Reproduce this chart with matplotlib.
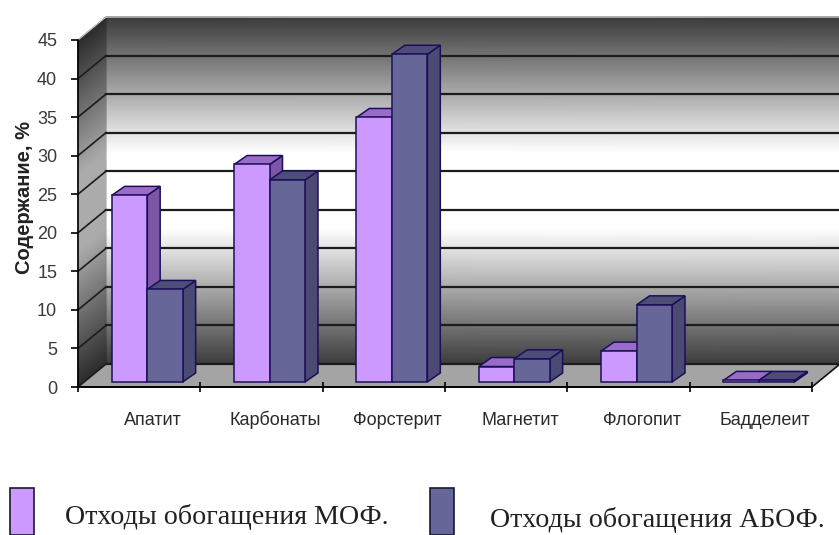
import numpy as np
import matplotlib
matplotlib.use("Agg")
import matplotlib.pyplot as plt
from matplotlib.colors import LinearSegmentedColormap
from matplotlib.patches import Polygon, Rectangle

categories = ["Апатит", "Карбонаты", "Форстерит", "Магнетит", "Флогопит", "Бадделеит"]
mof_values = [24.2, 28.2, 34.3, 2, 4, 0.2]
abof_values = [12, 26.2, 42.5, 3, 10, 0.2]
series_names = ["Отходы обогащения МОФ.", "Отходы обогащения АБОФ."]
y_ticks = list(range(0, 50, 5))

plt.rcParams["font.family"] = ["Liberation Sans", "DejaVu Sans"]

W, H = 839, 535
fig = plt.figure(figsize=(W / 100, H / 100), dpi=100)
ax = fig.add_axes([78 / W, (H - 387) / H, 734 / W, 347 / H])

# oblique depth of the 3d box, in data units
DX = 28 / (734 / 6)
DY = 23 / (347 / 45)
YMAX = 45

# wall shading: white band in the middle, dark at top and bottom
wall_cmap = LinearSegmentedColormap.from_list("wall", ["#ffffff", "#3c3c3c"])
side_cmap = LinearSegmentedColormap.from_list("side", ["#ababab", "#2c2c2c"])

yy = np.linspace(0, YMAX, 200)
shade = np.abs(np.linspace(-1, 1, 200))[:, None] * np.ones((200, 2))
wall_shade = np.clip((shade - 0.22) / 0.78, 0, 1)

# back wall
Xb, Yb = np.meshgrid(np.array([DX, 6 + DX]), yy + DY)
ax.pcolormesh(Xb, Yb, wall_shade, cmap=wall_cmap, vmin=0, vmax=1, shading="gouraud",
              zorder=1, clip_on=False)

# side wall, skewed with the depth
Xs, Ys = np.meshgrid(np.array([0, DX]), yy)
Ys = Ys + Xs / DX * DY
ax.pcolormesh(Xs, Ys, wall_shade, cmap=side_cmap, vmin=0, vmax=1, shading="gouraud",
              zorder=1, clip_on=False)

# floor
ax.add_patch(Polygon([(0, 0), (6, 0), (6 + DX, DY), (DX, DY)], closed=True, fc="#a4a4a4", ec="none",
                     zorder=1.5, clip_on=False))
ax.plot([6, 6 + DX], [0, DY], color="#111111", lw=1.2, zorder=2, clip_on=False)

# grid lines on both walls
for v in y_ticks:
    if v == YMAX:
        ax.plot([DX, 6 + DX], [v + DY, v + DY], color="#b5b5b5", lw=1.2, zorder=2, clip_on=False)
        ax.plot([0, DX], [v, v + DY], color="#cfcfcf", lw=0.8, zorder=2, clip_on=False)
        continue
    ax.plot([DX, 6 + DX], [v + DY, v + DY], color="#1c1c1c", lw=1.6, zorder=2, clip_on=False)
    ax.plot([0, DX], [v, v + DY], color="#1c1c1c", lw=1.2, zorder=2, clip_on=False)


def draw_bar(x0, width, value, front, top, side):
    # bar stands in the middle of the floor depth
    d0x, d0y = 0.29 * DX, 0.22 * DY
    d1x, d1y = 0.75 * DX, 0.61 * DY
    edge = "#1c0f5a"
    xa, xb = x0 + d0x, x0 + width + d0x
    ya, yb = d0y, d0y + value
    ddx, ddy = d1x - d0x, d1y - d0y
    ax.add_patch(Polygon([(xb, ya), (xb + ddx, ya + ddy), (xb + ddx, yb + ddy), (xb, yb)],
                         closed=True, fc=side, ec=edge, lw=1.1, zorder=3, clip_on=False))
    ax.add_patch(Polygon([(xa, yb), (xb, yb), (xb + ddx, yb + ddy), (xa + ddx, yb + ddy)],
                         closed=True, fc=top, ec=edge, lw=1.1, zorder=3, clip_on=False))
    ax.add_patch(Rectangle((xa, ya), width, value, fc=front, ec=edge, lw=1.1, zorder=3, clip_on=False))


bar_w = 0.29
for i in range(len(categories)):
    left = i + 0.5 - bar_w
    draw_bar(left, bar_w, mof_values[i], "#cc99ff", "#9a6cc8", "#7d55a6")
    draw_bar(left + bar_w, bar_w, abof_values[i], "#666699", "#4d4d78", "#4a4a72")
    ax.text(i + 0.5 + DX / 2, -4.9, categories[i], ha="center", va="baseline",
            fontsize=13, color="#2a2a2a")

ax.set_xlim(0, 6)
ax.set_ylim(0, YMAX)
ax.patch.set_visible(False)
for name in ["top", "right"]:
    ax.spines[name].set_visible(False)
ax.spines["left"].set_linewidth(1.2)
ax.spines["bottom"].set_linewidth(1.4)
ax.set_xticks(range(7))
ax.set_xticklabels([])
ax.tick_params(axis="x", direction="inout", length=7, width=1.2)
ax.set_yticks(y_ticks)
ax.tick_params(axis="y", direction="out", length=5, width=1.2, labelsize=13, pad=10, labelcolor="#3a3a3a")
ax.set_ylabel("Содержание, %", fontsize=14.5, fontweight="bold", color="#222222")
ax.yaxis.set_label_coords(-44 / 734, 0.546)

# hand-placed legend below the chart
legend_colors = ["#cc99ff", "#666699"]
for x, c in zip([10, 430], legend_colors):
    fig.add_artist(Rectangle((x / W, 0), 24 / W, (H - 488) / H, transform=fig.transFigure,
                             fc=c, ec="#1a1a30", lw=1.2))
for x, y, name in zip([65, 490], [517, 520], series_names):
    fig.text(x / W, (H - y) / H, name, family=["Liberation Serif", "DejaVu Serif"], fontsize=20.2,
             va="center", ha="left", color="#222222")

fig.savefig("out.png", dpi=100)
